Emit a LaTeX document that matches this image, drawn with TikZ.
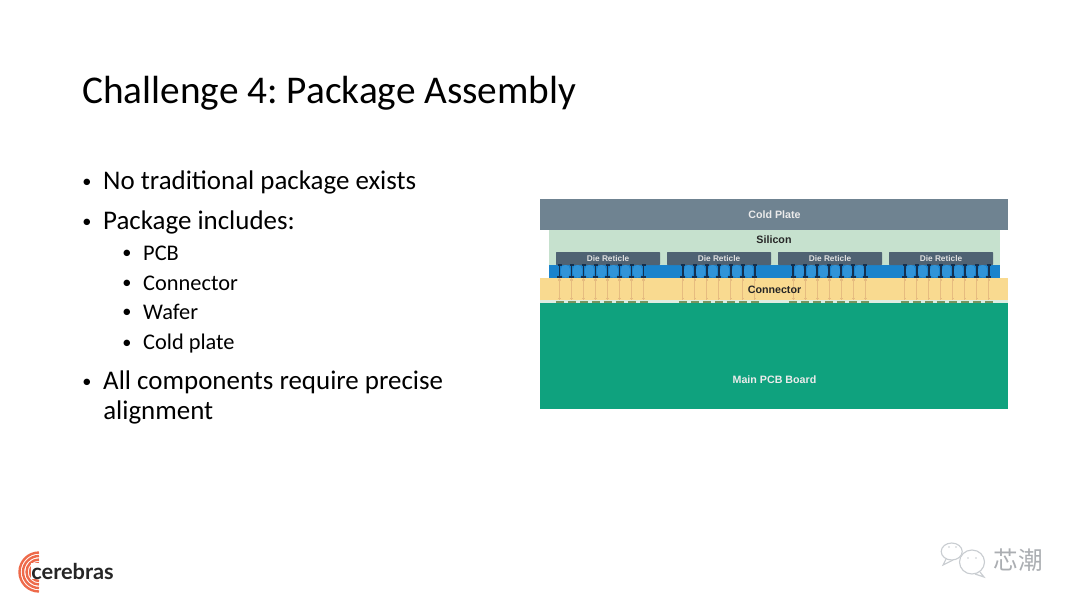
\documentclass[tikz,border=0pt]{standalone}
\usepackage{fontspec}
\setmainfont{Carlito}
\newfontfamily\labelfont{Liberation Sans}
\newfontfamily\logofont{Lato}
\newfontfamily\cjkfont{Noto Sans CJK SC}
\usetikzlibrary{arrows.meta, positioning, calc, shapes.geometric}
\definecolor{coldplate}{HTML}{6F8391}
\definecolor{silicon}{HTML}{C6E1CE}
\definecolor{reticle}{HTML}{4F6273}
\definecolor{bump}{HTML}{1A83CC}
\definecolor{bumplight}{HTML}{3094D8}
\definecolor{pincol}{HTML}{14304F}
\definecolor{connector}{HTML}{F9DA90}
\definecolor{spring}{HTML}{E6BC80}
\definecolor{pcb}{HTML}{0FA27E}
\definecolor{padcol}{HTML}{7A9460}
\definecolor{arcs}{HTML}{EE6A4A}
\definecolor{wmgray}{HTML}{C9CDD1}
\newcommand{\bul}{\makebox[14.9pt][l]{\fontsize{13}{13}\selectfont\raisebox{0.1em}{•}}}
\tikzset{
  title/.style  = {anchor=west, inner sep=0pt, font=\frenchspacing\fontsize{27.95}{32}\selectfont},
  item/.style   = {anchor=west, inner sep=0pt, font=\frenchspacing\fontsize{19.15}{22}\selectfont},
  subitem/.style= {anchor=west, inner sep=0pt, font=\frenchspacing\fontsize{15.9}{18}\selectfont},
  layer/.style  = {inner sep=0pt, font=\labelfont\bfseries\fontsize{7.6}{9}\selectfont, text=white!92!black},
  dark/.style   = {layer, text=black!85},
  die/.style    = {layer, font=\labelfont\bfseries\fontsize{5.9}{7}\selectfont, text=white!88!black},
  pinline/.style= {draw=pincol, line width=1.3pt},
  springline/.style = {draw=spring, line width=0.6pt},
  logoarc/.style= {draw=arcs, line width=1.7pt},
  bubble/.style = {draw=wmgray, line width=0.8pt, fill=white},
}
\begin{document}
\begin{tikzpicture}[x=0.025cm, y=-0.025cm]
  \useasboundingbox (0,0) rectangle (1080,608);

  % slide text
  \node[title] (head) at (82,93) {Challenge 4: Package Assembly};
  \node[item] (b1) at (82,182) {\bul No traditional package exists};
  \node[item] (b2) at (82,222) {\bul Package includes:};
  \node[subitem] (s1) at (122,253) {\bul PCB};
  \node[subitem] (s2) at (122,283) {\bul Connector};
  \node[subitem] (s3) at (122,312) {\bul Wafer};
  \node[subitem] (s4) at (122,344) {\bul Cold plate};
  \node[item] (b3) at (82,382) {\bul All components require precise};
  \node[item] (b4) at (103,412) {alignment};

  % layers
  \fill[silicon] (549,230) rectangle (1000,266);
  \fill[coldplate] (540,199) rectangle (1008,230);
  \fill[bump] (549,265) rectangle (1000,278);
  \fill[connector] (540,278) rectangle (1008,300);
  \fill[silicon!60!white] (540,300) rectangle (1008,303);
  \fill[pcb] (540,303) rectangle (1008,409);

  % die reticles
  \foreach \x in {556,667,778,889}{
    \fill[reticle, rounded corners=0.5pt] (\x,252) rectangle ++(104,13);
    \node[die] at (\x+52,258.5) {Die Reticle};
  }

  % pins, one list per die
  \foreach \start/\n in {559.5/7, 682.7/6, 793.3/6, 904.7/7}{
    \foreach \i in {0,...,\n}{
      \pgfmathsetmacro\px{\start+12*\i}
      \ifnum\i<\n
        \fill[bumplight, rounded corners=3pt] (\px+1.5,265) rectangle (\px+10.5,277.5);
      \fi
      \draw[springline] (\px,278) -- (\px,300);
      \fill[spring] (\px-1.2,279) rectangle (\px+1.2,280.5);
      \fill[spring] (\px-1.2,297.5) rectangle (\px+1.2,299);
      \fill[padcol] (\px-4,300.5) rectangle (\px+4,302.5);
      \draw[pinline] (\px,265) -- (\px,277);
      \draw[pinline] (\px-2,265.3) -- (\px+2,265.3);
      \draw[pinline] (\px-2.5,277) -- (\px+2.5,277);
    }
  }

  \node[layer] (plate) at (774.5,214.5) {Cold Plate};
  \node[dark] (sil) at (774,239.5) {Silicon};
  \node[dark] (conn) at (774.5,289.5) {Connector};
  \node[layer] (board) at (774.5,379.5) {Main PCB Board};

  % logo
  \draw[logoarc] (39,552.5) arc (270:90:19.5);
  \draw[logoarc] (39,556) arc (270:90:16);
  \draw[logoarc] (39,559.5) arc (270:90:12.5);
  \draw[logoarc] (39,563) arc (270:90:9);
  \node[anchor=west, inner sep=0pt, fill=white, font=\logofont\bfseries\fontsize{15.5}{17}\selectfont, text=black!85] (logo) at (31,571) {cerebras};

  % watermark
  \draw[bubble] (946,559) -- (943,565) -- (953,560);
  \draw[bubble] (951.7,551.5) ellipse (10.5 and 8.5);
  \draw[bubble] (980,572) -- (984,577) -- (975,574);
  \draw[bubble] (972,562) ellipse (12.5 and 12);
  \fill[wmgray] (949,547) circle (0.8) (956,547) circle (0.8) (968,558) circle (0.8) (976,558) circle (0.8);
  \node[inner sep=0pt, font=\cjkfont\fontsize{17.5}{20}\selectfont, text=wmgray!85!black] (wm) at (1018,560) {芯潮};
\end{tikzpicture}
\end{document}
